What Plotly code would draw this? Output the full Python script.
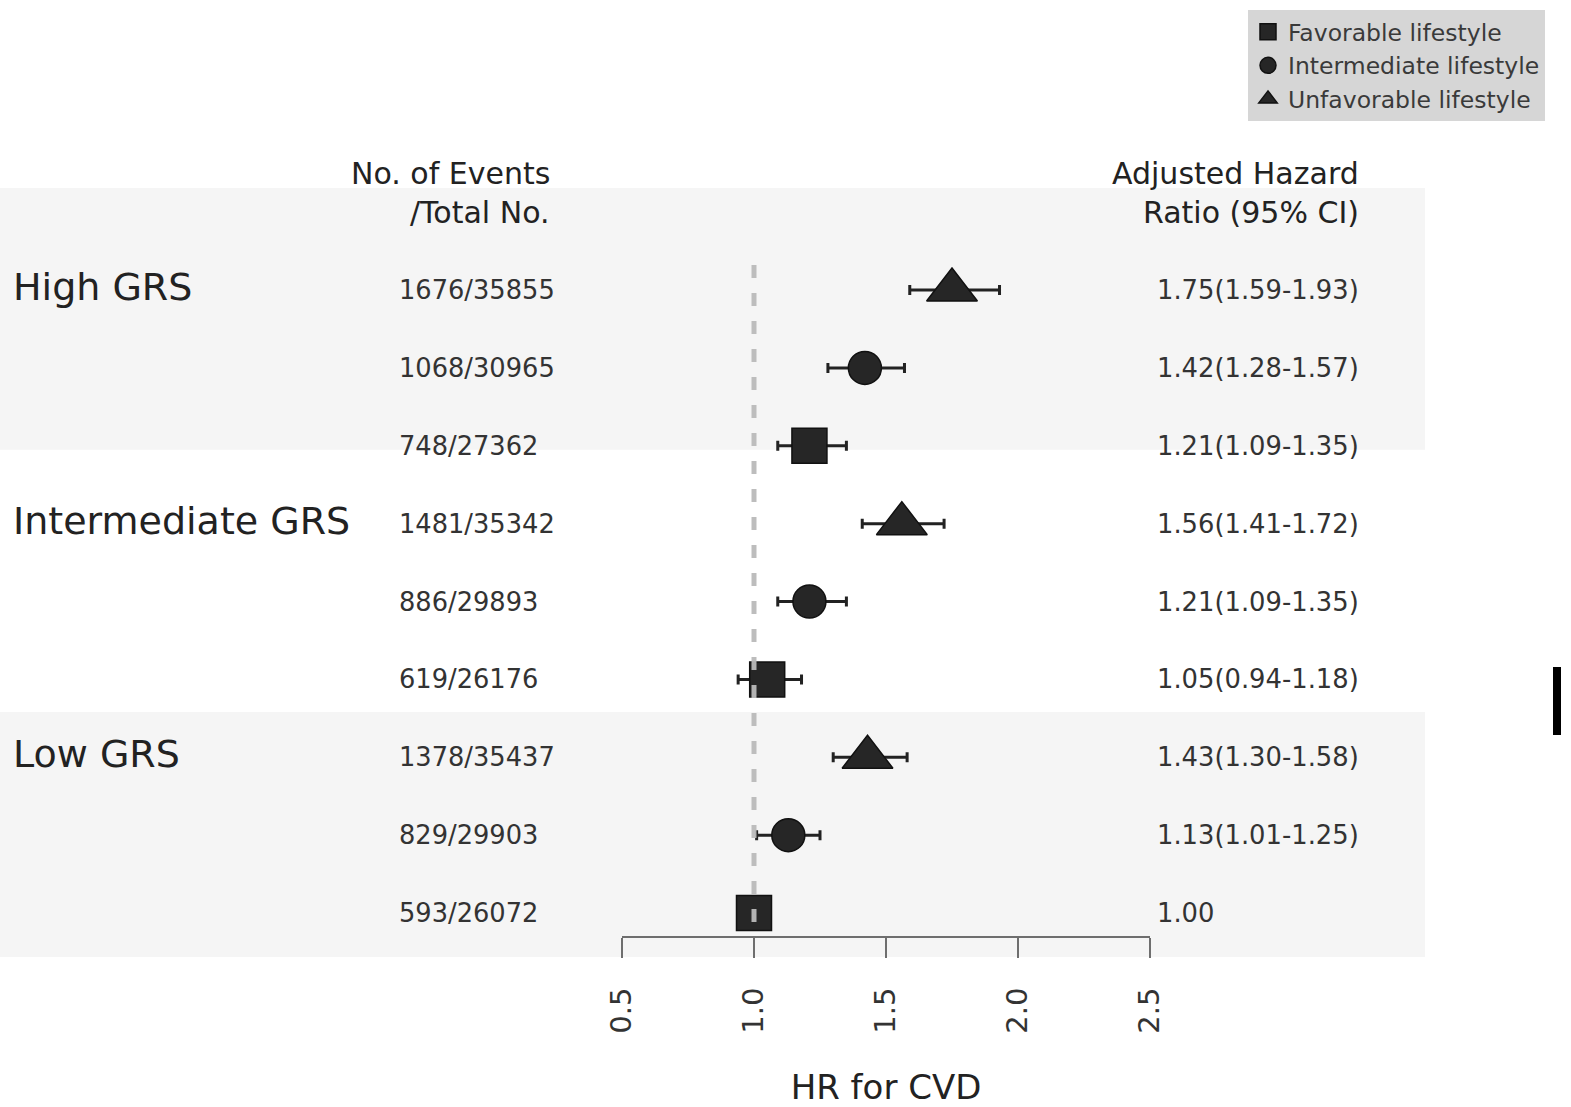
import plotly.graph_objects as go

# ---------------- data ----------------
groups = ["High GRS", "Intermediate GRS", "Low GRS"]
group_rows = [1, 4, 7]
lifestyles = ["Favorable lifestyle", "Intermediate lifestyle", "Unfavorable lifestyle"]
row_lifestyle = ["Unfavorable lifestyle", "Intermediate lifestyle", "Favorable lifestyle"] * 3
rows = [1, 2, 3, 4, 5, 6, 7, 8, 9]
events = ["1676/35855", "1068/30965", "748/27362",
          "1481/35342", "886/29893", "619/26176",
          "1378/35437", "829/29903", "593/26072"]
hr = [1.75, 1.42, 1.21, 1.56, 1.21, 1.05, 1.43, 1.13, 1.00]
lo = [1.59, 1.28, 1.09, 1.41, 1.09, 0.94, 1.30, 1.01, None]
hi = [1.93, 1.57, 1.35, 1.72, 1.35, 1.18, 1.58, 1.25, None]
hr_labels = ["1.75(1.59-1.93)", "1.42(1.28-1.57)", "1.21(1.09-1.35)",
             "1.56(1.41-1.72)", "1.21(1.09-1.35)", "1.05(0.94-1.18)",
             "1.43(1.30-1.58)", "1.13(1.01-1.25)", "1.00"]
tick_vals = [0.5, 1.0, 1.5, 2.0, 2.5]
tick_text = ["0.5", "1.0", "1.5", "2.0", "2.5"]

# ---------------- style ----------------
W, H = 1571, 1107
FONT = "DejaVu Sans"
symbols = {"Favorable lifestyle": "square",
           "Intermediate lifestyle": "circle",
           "Unfavorable lifestyle": "triangle-up"}
sizes = {"Favorable lifestyle": 35,
         "Intermediate lifestyle": 33,
         "Unfavorable lifestyle": 44}
MARK = "#262626"


def px(x):
    return x / W


fig = go.Figure()

for ls in lifestyles:
    idx = [i for i, l in enumerate(row_lifestyle) if l == ls]
    xs = [hr[i] for i in idx]
    ys = [rows[i] for i in idx]
    plus = [None if hi[i] is None else hi[i] - hr[i] for i in idx]
    minus = [None if lo[i] is None else hr[i] - lo[i] for i in idx]
    fig.add_trace(go.Scatter(
        x=xs, y=ys, mode="markers", name=ls,
        marker=dict(symbol=symbols[ls], size=sizes[ls], color=MARK,
                    line=dict(color="#111111", width=1.5)),
        error_x=dict(type="data", array=plus, arrayminus=minus, symmetric=False,
                     thickness=3, width=5, color="#222222"),
        cliponaxis=False,
    ))

# reference line at HR = 1
fig.add_trace(go.Scatter(
    x=[1.0, 1.0], y=[0.68, 9.31], mode="lines", showlegend=False,
    line=dict(color="rgba(185,185,185,0.95)", width=5, dash="13px,15px"),
    hoverinfo="skip",
))

# background bands
shapes = [
    dict(type="rect", xref="paper", yref="y", x0=0, x1=px(1425), y0=-0.31, y1=3.05,
         fillcolor="#f5f5f5", line=dict(width=0), layer="below"),
    dict(type="rect", xref="paper", yref="y", x0=0, x1=px(1425), y0=6.42, y1=9.565,
         fillcolor="#f5f5f5", line=dict(width=0), layer="below"),
    # scan artifact bar at right edge
    dict(type="rect", xref="paper", yref="paper", x0=px(1553), x1=px(1561),
         y0=1 - 735 / H, y1=1 - 667 / H, fillcolor="#000000", line=dict(width=0)),
]

ann = []
# headers
ann.append(dict(text="No. of Events", x=px(552), y=-0.49, xanchor="right"))
ann.append(dict(text="/Total No.", x=px(552), y=0.0, xanchor="right"))
ann.append(dict(text="Adjusted Hazard", x=px(1361), y=-0.49, xanchor="right"))
ann.append(dict(text="Ratio (95% CI)", x=px(1361), y=0.0, xanchor="right"))
for a in ann:
    a.update(font=dict(family=FONT, size=30, color="#222222"))

for g, r in zip(groups, group_rows):
    ann.append(dict(text=g, x=px(11), y=r - 0.04, xanchor="left",
                    font=dict(family=FONT, size=38, color="#222222")))

for e, r in zip(events, rows):
    ann.append(dict(text=e, x=px(397), y=r, xanchor="left",
                    font=dict(family=FONT, size=25.7, color="#333333")))

for t, r in zip(hr_labels, rows):
    ann.append(dict(text=t, x=px(1155), y=r, xanchor="left",
                    font=dict(family=FONT, size=25.8, color="#333333")))

for a in ann:
    a.update(xref="paper", yref="y", showarrow=False, yanchor="middle")

fig.update_layout(
    width=W, height=H, autosize=False,
    margin=dict(l=0, r=0, t=0, b=0, pad=0, autoexpand=False),
    paper_bgcolor="white", plot_bgcolor="rgba(0,0,0,0)",
    shapes=shapes, annotations=ann,
    showlegend=True,
    legend=dict(xref="container", yref="container",
                x=px(1248), y=1 - 10 / H, xanchor="left", yanchor="top",
                bgcolor="#d6d6d6", borderwidth=0, tracegroupgap=0,
                font=dict(family=FONT, size=23.5, color="#3a3a3a"),
                itemclick=False),
    xaxis=dict(domain=[px(622), px(1150)], range=[0.5, 2.5],
               anchor="free", position=1 - 937 / H, automargin=False,
               showgrid=False, zeroline=False,
               showline=True, linecolor="#6e6e6e", linewidth=2,
               ticks="outside", ticklen=20, tickwidth=2, tickcolor="#6e6e6e",
               tickvals=tick_vals, ticktext=tick_text, tickangle=-90,
               ticklabelstandoff=18,
               tickfont=dict(family=FONT, size=29, color="#333333"),
               title=dict(text="HR for CVD", standoff=42,
                          font=dict(family=FONT, size=34, color="#222222"))),
    yaxis=dict(domain=[0, 1], range=[11.491, -2.724], visible=False,
               automargin=False, showgrid=False, zeroline=False),
)

fig.write_html("out.html")
